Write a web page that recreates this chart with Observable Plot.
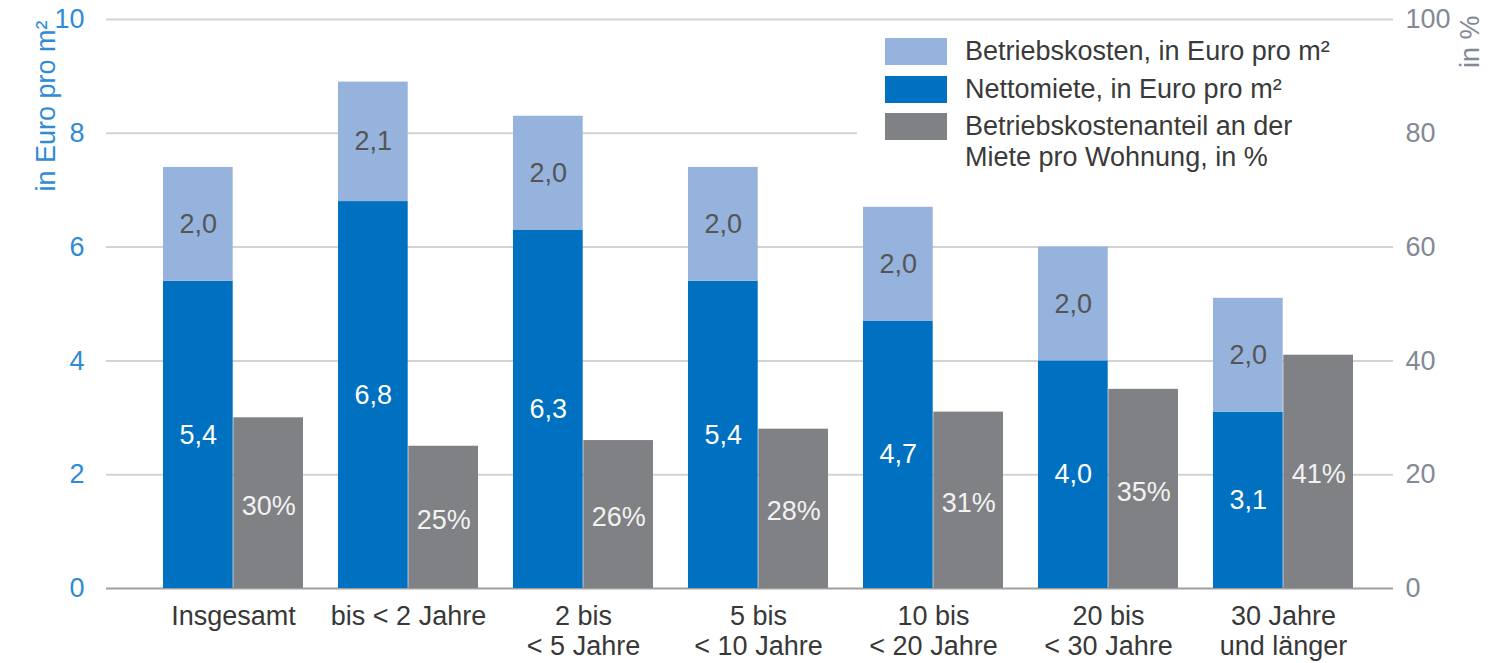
<!DOCTYPE html>
<html>
<head>
<meta charset="utf-8">
<script src="https://cdn.jsdelivr.net/npm/d3@7"></script>
<script src="https://cdn.jsdelivr.net/npm/@observablehq/plot@0.6"></script>
<style>
  html, body { margin: 0; padding: 0; background: #fff; }
  #wrap { position: relative; width: 1489px; height: 663px; font-family: "Liberation Sans", Arial, sans-serif; }
  #legend { position: absolute; left: 857px; top: 26px; width: 536px; height: 175px; background: #fff; color: #3a3a3a; font-size: 27px; }
  .row { position: absolute; left: 28px; display: flex; align-items: flex-start; }
  .sw { width: 62px; height: 27px; margin-top: 2px; margin-right: 18px; flex: none; }
  .lbl { line-height: 31px; white-space: nowrap; }
</style>
</head>
<body>
<div id="wrap"></div>
<script>
// ---- data ----
const categories = ["Insgesamt", "bis < 2 Jahre", "2 bis\n< 5 Jahre", "5 bis\n< 10 Jahre", "10 bis\n< 20 Jahre", "20 bis\n< 30 Jahre", "30 Jahre\nund länger"];
const nettomiete = [5.4, 6.8, 6.3, 5.4, 4.7, 4.0, 3.1];
const betriebskosten = [2.0, 2.1, 2.0, 2.0, 2.0, 2.0, 2.0];
const anteil = [30, 25, 26, 28, 31, 35, 41];
const leftTicks = [0, 2, 4, 6, 8, 10];
const rightTickLabels = ["0", "20", "40", "60", "80", "100"];
const seriesNames = ["Betriebskosten, in Euro pro m²", "Nettomiete, in Euro pro m²", "Betriebskostenanteil an der\nMiete pro Wohnung, in %"];

const colLight = "#95b3dc";
const colBlue = "#0070c0";
const colGray = "#808184";

const stacked = [];
categories.forEach((c, i) => {
  stacked.push({cat: c, series: "Nettomiete", value: nettomiete[i]});
  stacked.push({cat: c, series: "Betriebskosten", value: betriebskosten[i]});
});
const shares = categories.map((c, i) => ({cat: c, value: anteil[i]}));
const fmt = v => v.toFixed(1).replace(".", ",");
const half = 70.3;

const chart = Plot.plot({
  width: 1489,
  height: 663,
  marginTop: 19,
  marginBottom: 75,
  marginLeft: 106,
  marginRight: 96,
  style: {fontFamily: "'Liberation Sans', Arial, sans-serif", fontSize: "27px", background: "white"},
  x: {domain: categories, range: [160, 1355], paddingInner: 0.2, paddingOuter: 0, axis: null},
  y: {domain: [0, 10], axis: null},
  color: {domain: ["Nettomiete", "Betriebskosten"], range: [colBlue, colLight]},
  marks: [
    Plot.gridY(leftTicks.filter(d => d > 0), {stroke: "#d3d3d3", strokeOpacity: 1, strokeWidth: 2}),
    Plot.ruleY([0], {stroke: "#a0a0a0", strokeWidth: 2}),
    Plot.barY(stacked, Plot.stackY({x: "cat", y: "value", fill: "series", order: ["Nettomiete", "Betriebskosten"], insetRight: half})),
    Plot.barY(shares, {x: "cat", y: d => d.value / 10, fill: colGray, insetLeft: half}),
    Plot.text(stacked, Plot.stackY({x: "cat", y: "value", z: "series", order: ["Nettomiete", "Betriebskosten"], text: d => fmt(d.value), dx: -half / 2,
      fill: d => d.series === "Nettomiete" ? "#ffffff" : "#555555"})),
    Plot.text(shares, {x: "cat", y: d => d.value / 20, text: d => d.value + "%", dx: half / 2, dy: 3, fill: "#f2f2f2"}),
    Plot.axisY(leftTicks, {anchor: "left", tickSize: 0, tickPadding: 22, tickFormat: d => String(d), fill: "#2f8bd5", label: null}),
    Plot.axisY(leftTicks, {anchor: "right", tickSize: 0, tickPadding: 12, tickFormat: (d, i) => rightTickLabels[leftTicks.indexOf(d)], fill: "#838995", label: null}),
    Plot.axisX({tickSize: 0, tickPadding: 15, lineHeight: 1.12, fill: "#383838", label: null}),
    Plot.text(["in Euro pro m²"], {frameAnchor: "top-left", rotate: -90, textAnchor: "end", dx: -71, dy: 1, fill: "#2f8bd5"}),
    Plot.text(["in %"], {frameAnchor: "top-right", rotate: -90, textAnchor: "end", dx: 66, dy: -4, fill: "#838995"})
  ]
});

const wrap = document.getElementById("wrap");
wrap.appendChild(chart);

const legend = document.createElement("div");
legend.id = "legend";
const legendColors = [colLight, colBlue, colGray];
const rowTops = [10, 48, 85];
seriesNames.forEach((name, i) => {
  const row = document.createElement("div");
  row.className = "row";
  row.style.top = rowTops[i] + "px";
  const sw = document.createElement("div");
  sw.className = "sw";
  sw.style.background = legendColors[i];
  const lbl = document.createElement("div");
  lbl.className = "lbl";
  lbl.innerHTML = name.split("\n").join("<br>");
  row.appendChild(sw);
  row.appendChild(lbl);
  legend.appendChild(row);
});
wrap.appendChild(legend);
</script>
</body>
</html>
